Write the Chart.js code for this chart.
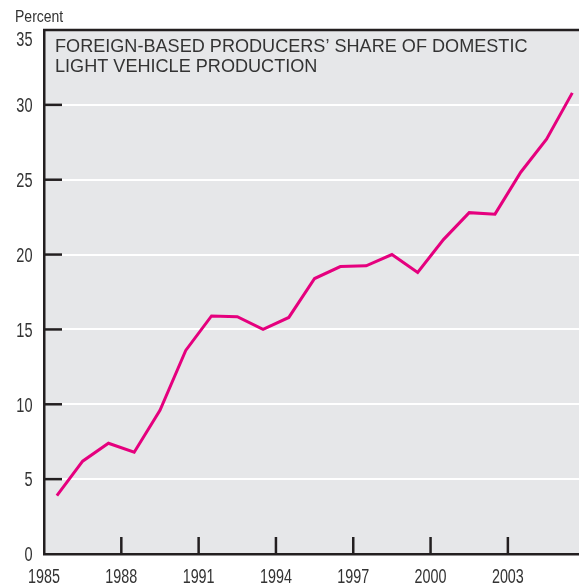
<!DOCTYPE html>
<html>
<head>
<meta charset="utf-8">
<script src="https://cdn.jsdelivr.net/npm/chart.js@4"></script>
<style>
  body { margin: 0; background: #fff; }
  canvas { display: block; }
</style>
</head>
<body>
<canvas id="shareChart" width="579" height="586"></canvas>
<script>
// Foreign-based producers' share of domestic light vehicle production
const years = [1985, 1986, 1987, 1988, 1989, 1990, 1991, 1992, 1993, 1994, 1995,
               1996, 1997, 1998, 1999, 2000, 2001, 2002, 2003, 2004, 2005];
const sharePct = [3.9, 6.2, 7.4, 6.8, 9.6, 13.6, 15.9, 15.85, 15.0, 15.8, 18.4,
                  19.2, 19.25, 20.0, 18.8, 21.0, 22.8, 22.7, 25.5, 27.7, 30.8];
const xTickYears = [1985, 1988, 1991, 1994, 1997, 2000, 2003];
const yTicks = [0, 5, 10, 15, 20, 25, 30, 35];
const titleLines = ['FOREIGN-BASED PRODUCERS\u2019 SHARE OF DOMESTIC', 'LIGHT VEHICLE PRODUCTION'];
const unitLabel = 'Percent';

const axisColor = '#231f20';
const textColor = '#333333';
const plotBg = '#e6e7e9';
const lineColor = '#e5007e';
const sans = '"Liberation Sans", Arial, sans-serif';

// each year is drawn in the middle of its interval
const points = years.map((y, i) => ({ x: y + 0.5, y: sharePct[i] }));

// condensed look: squeeze regular text horizontally
function squeezed(ctx, text, x, y, align, sx) {
    ctx.save();
    ctx.translate(x, y);
    ctx.scale(sx, 1);
    ctx.textAlign = align;
    ctx.fillText(text, 0, 0);
    ctx.restore();
}

const decorPlugin = {
    id: 'decor',
    beforeDraw(chart) {
        const { ctx, chartArea: a } = chart;
        ctx.save();
        ctx.fillStyle = plotBg;
        ctx.fillRect(a.left, a.top, a.right - a.left, a.bottom - a.top);
        ctx.restore();
    },
    afterDraw(chart) {
        const { ctx, chartArea: a, scales } = chart;
        ctx.save();
        ctx.strokeStyle = axisColor;
        // top border
        ctx.lineWidth = 2.5;
        ctx.beginPath();
        ctx.moveTo(a.left - 1, a.top);
        ctx.lineTo(a.right, a.top);
        ctx.stroke();
        // inward tick marks
        yTicks.forEach(v => {
            if (v === 0 || v === 35) return;
            const py = scales.y.getPixelForValue(v);
            ctx.beginPath();
            ctx.moveTo(a.left, py);
            ctx.lineTo(a.left + 18, py);
            ctx.stroke();
        });
        xTickYears.forEach(v => {
            if (v === 1985) return;
            const px = scales.x.getPixelForValue(v);
            ctx.beginPath();
            ctx.moveTo(px, a.bottom);
            ctx.lineTo(px, a.bottom - 17);
            ctx.stroke();
        });

        ctx.fillStyle = textColor;
        ctx.textBaseline = 'alphabetic';
        // tick labels
        ctx.font = '20.5px ' + sans;
        xTickYears.forEach(v => {
            squeezed(ctx, String(v), scales.x.getPixelForValue(v), 583, 'center', 0.7);
        });
        yTicks.forEach(v => {
            // the top label sits lower to stay clear of the unit label
            const py = v === 35 ? 38.5 : scales.y.getPixelForValue(v);
            squeezed(ctx, String(v), 32.5, py + 7.3, 'right', 0.71);
        });
        // unit label
        ctx.font = '16.3px ' + sans;
        squeezed(ctx, unitLabel, 15, 21.7, 'left', 0.86);
        // title inside plot
        ctx.font = '18.1px ' + sans;
        ctx.textAlign = 'left';
        ctx.fillText(titleLines[0], 55, 52);
        ctx.fillText(titleLines[1], 55, 72);
        ctx.restore();
    }
};

const chart = new Chart(document.getElementById('shareChart').getContext('2d'), {
    type: 'line',
    data: {
        datasets: [{
            label: 'Share',
            data: points,
            borderColor: lineColor,
            borderWidth: 3,
            pointRadius: 0,
            tension: 0,
            fill: false,
        }],
    },
    options: {
        responsive: false,
        animation: false,
        layout: { padding: { top: 30, left: 0, right: 0, bottom: 0 } },
        plugins: {
            legend: { display: false },
            tooltip: { enabled: false },
        },
        scales: {
            x: {
                type: 'linear',
                min: 1985,
                max: 2005.76,
                afterBuildTicks: s => { s.ticks = xTickYears.map(v => ({ value: v })); },
                afterFit: s => { s.height = 32; },
                grid: { display: false, drawTicks: false },
                border: { display: true, color: axisColor, width: 2.5 },
                ticks: { display: false },
            },
            y: {
                min: 0,
                max: 35,
                afterBuildTicks: s => { s.ticks = yTicks.map(v => ({ value: v })); },
                afterFit: s => { s.width = 44; },
                grid: {
                    drawTicks: false,
                    lineWidth: 2,
                    color: c => (c.tick && (c.tick.value === 0 || c.tick.value === 35)) ? 'rgba(0,0,0,0)' : '#ffffff',
                },
                border: { display: true, color: axisColor, width: 2.5 },
                ticks: { display: false },
            },
        },
    },
    plugins: [decorPlugin],
});
</script>
</body>
</html>
